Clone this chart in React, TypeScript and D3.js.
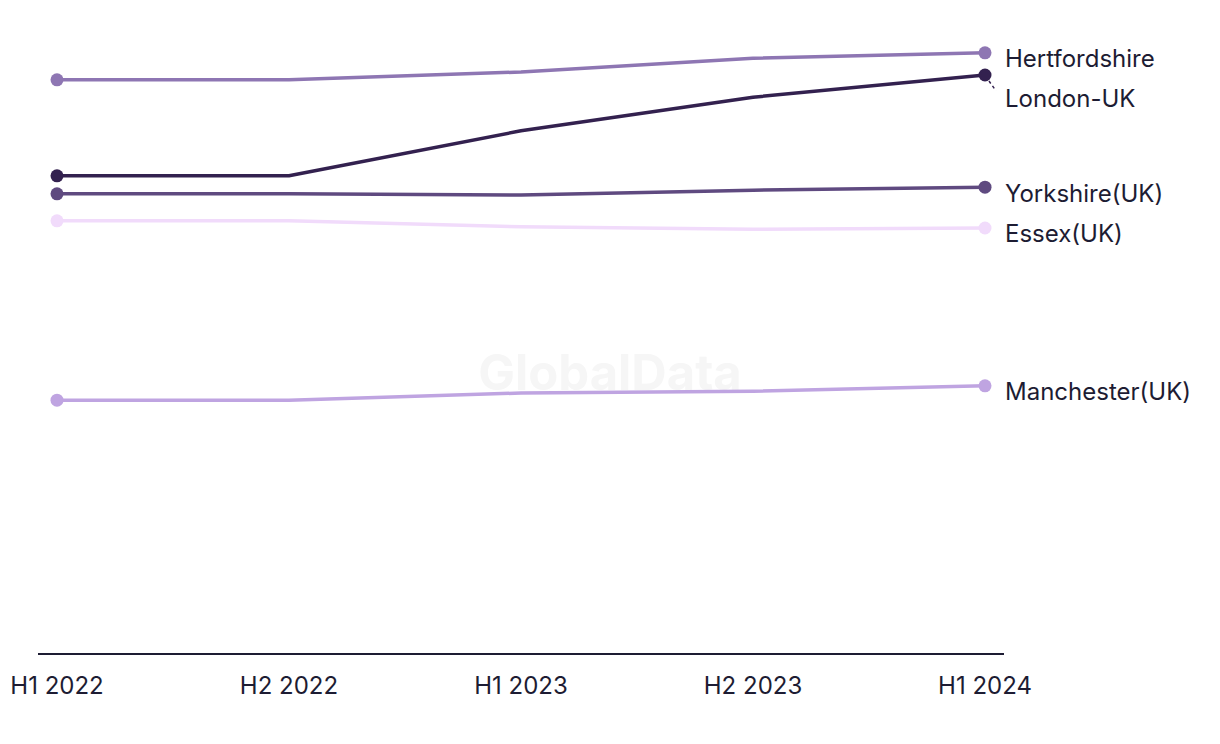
import React from "react";
import * as d3 from "d3";

const periods = ["H1 2022", "H2 2022", "H1 2023", "H2 2023", "H1 2024"];
const seriesNames = ["Hertfordshire", "London-UK", "Yorkshire(UK)", "Essex(UK)", "Manchester(UK)"];
const hertfordshire = [95.7, 95.7, 97.0, 99.3, 100.2];
const london = [79.7, 79.7, 87.2, 92.8, 96.5];
const yorkshire = [76.7, 76.7, 76.5, 77.3, 77.8];
const essex = [72.2, 72.2, 71.2, 70.8, 71.0];
const manchester = [42.3, 42.3, 43.5, 43.8, 44.7];
const colors = ["#8e76b3", "#33214f", "#5f4a80", "#f1dbfb", "#bfa4e1"];

const W = 1220;
const H = 744;

export default function App() {
  const values = [hertfordshire, london, yorkshire, essex, manchester];
  const x = d3.scalePoint<string>().domain(periods).range([57, 985]);
  const y = d3.scaleLinear().domain([0, 100]).range([654, 54]);
  const line = d3
    .line<number>()
    .x((_, i) => x(periods[i]) as number)
    .y((v) => y(v))
    .curve(d3.curveLinear);

  const last = values.map((v, i) => ({ i, py: y(v[v.length - 1]) }));
  const order = [...last].sort((a, b) => a.py - b.py);
  const labelY: number[] = [];
  let prev = -Infinity;
  for (const o of order) {
    let ly = o.py + 6;
    if (ly < prev + 40) ly = prev + 40;
    labelY[o.i] = ly;
    prev = ly;
  }
  const textColor = "#1d1c33";
  const font = "Inter, 'Noto Sans', sans-serif";
  const n = periods.length;

  return (
    <svg width={W} height={H} style={{ position: "absolute", left: 0, top: 0 }}>
      <text
        x={610}
        y={390}
        textAnchor="middle"
        fontFamily={font}
        fontWeight={700}
        fontSize={49}
        fill="#f6f6f6"
      >
        GlobalData
      </text>
      <line x1={38} x2={1004} y1={654} y2={654} stroke={textColor} strokeWidth={2} />
      {periods.map((p) => (
        <text
          key={p}
          x={x(p)}
          y={694}
          textAnchor="middle"
          fontFamily={font}
          fontSize={24}
          fill={textColor}
        >
          {p}
        </text>
      ))}
      {values.map((v, i) => (
        <g key={seriesNames[i]}>
          <path d={line(v) || ""} fill="none" stroke={colors[i]} strokeWidth={3.5} strokeLinejoin="round" />
          {[0, n - 1].map((j) => (
            <circle key={j} cx={x(periods[j])} cy={y(v[j])} r={6.5} fill={colors[i]} />
          ))}
        </g>
      ))}
      {values.map((v, i) => {
        const px = x(periods[n - 1]) as number;
        const py = y(v[n - 1]);
        const ly = labelY[i];
        const moved = ly - py > 12;
        return (
          <g key={"l" + i}>
            {moved && (
              <line
                x1={px + 4}
                y1={py + 6}
                x2={px + 11}
                y2={ly - 8}
                stroke={colors[i]}
                strokeWidth={1.5}
                strokeDasharray="3,3"
              />
            )}
            <text
              x={1005}
              y={ly}
              dy="0.35em"
              fontFamily={font}
              fontSize={24}
              fill={textColor}
            >
              {seriesNames[i]}
            </text>
          </g>
        );
      })}
    </svg>
  );
}
